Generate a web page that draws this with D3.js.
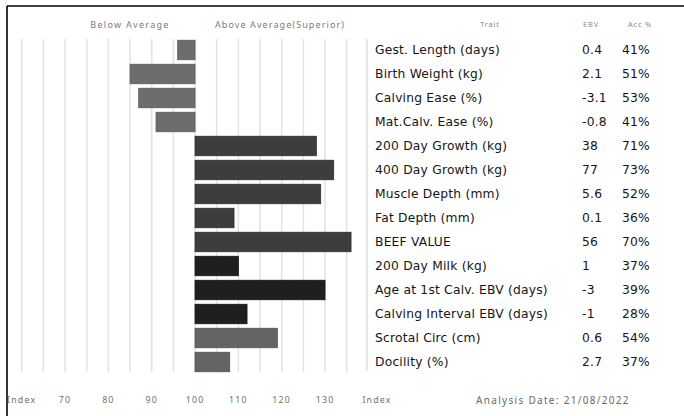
<!DOCTYPE html>
<html>
<head>
<meta charset="utf-8">
<script src="https://cdn.jsdelivr.net/npm/d3@7"></script>
<style>
  html, body { margin: 0; padding: 0; background: #fff; }
  svg { display: block; }
</style>
</head>
<body>
<svg id="chart" width="684" height="416"></svg>
<script>
// ---- data ----
const traits = ["Gest. Length (days)", "Birth Weight (kg)", "Calving Ease (%)", "Mat.Calv. Ease (%)",
  "200 Day Growth (kg)", "400 Day Growth (kg)", "Muscle Depth (mm)", "Fat Depth (mm)", "BEEF VALUE",
  "200 Day Milk (kg)", "Age at 1st Calv. EBV (days)", "Calving Interval EBV (days)", "Scrotal Circ (cm)", "Docility (%)"];
const ebv = ["0.4", "2.1", "-3.1", "-0.8", "38", "77", "5.6", "0.1", "56", "1", "-3", "-1", "0.6", "2.7"];
const acc = ["41%", "51%", "53%", "41%", "71%", "73%", "52%", "36%", "70%", "37%", "39%", "28%", "54%", "37%"];
const indexValues = [96, 85, 87, 91, 128, 132, 129, 109, 136, 110, 130, 112, 119, 108];
const groups = ["Calving", "Calving", "Calving", "Calving", "Growth", "Growth", "Growth", "Growth", "Growth",
  "Fertility", "Fertility", "Fertility", "Other", "Other"];
const gridValues = [60, 65, 70, 75, 80, 85, 90, 95, 100, 105, 110, 115, 120, 125, 130, 135];
const tickValues = [60, 70, 80, 90, 100, 110, 120, 130, 142];
const tickLabels = ["Index", "70", "80", "90", "100", "110", "120", "130", "Index"];
const headers = { below: "Below Average", above: "Above Average(Superior)", trait: "Trait", ebv: "EBV", acc: "Acc %" };
const analysisDate = "Analysis Date: 21/08/2022";

// ---- drawing ----
const svg = d3.select("#chart");
const font = "'Noto Sans', sans-serif";
const rowFont = "'DejaVu Sans', sans-serif";

const x = d3.scaleLinear().domain([60, 135]).range([21.7, 346.7]);
const y = d3.scaleBand().domain(traits).range([38, 374]).paddingInner(0.1875).paddingOuter(0.09375);
const color = d3.scaleOrdinal()
  .domain(["Calving", "Growth", "Fertility", "Other"])
  .range(["#6d6d6d", "#3d3d3d", "#1f1f1f", "#646464"]);
const strokeColor = d3.scaleOrdinal()
  .domain(["Calving", "Growth", "Fertility", "Other"])
  .range(["#5a5a5a", "#2e2e2e", "#141414", "#525252"]);

// frame
svg.append("line").attr("x1", 7).attr("x2", 684).attr("y1", 6).attr("y2", 6)
  .attr("stroke", "#000").attr("stroke-width", 1.6);
svg.append("line").attr("x1", 7).attr("x2", 7).attr("y1", 6).attr("y2", 416)
  .attr("stroke", "#000").attr("stroke-width", 1.6);

// gridlines
svg.append("g").selectAll("line").data(gridValues).join("line")
  .attr("x1", d => x(d)).attr("x2", d => x(d))
  .attr("y1", 39).attr("y2", 372)
  .attr("stroke", "#e4e4e4").attr("stroke-width", 1.6);

// bars
svg.append("g").selectAll("rect").data(traits).join("rect")
  .attr("x", (d, i) => Math.min(x(100), x(indexValues[i])))
  .attr("y", d => y(d))
  .attr("width", (d, i) => Math.abs(x(indexValues[i]) - x(100)))
  .attr("height", y.bandwidth())
  .attr("fill", (d, i) => color(groups[i]))
  .attr("stroke", (d, i) => strokeColor(groups[i]))
  .attr("stroke-width", 0.8);

// header texts
function header(tx, ty, size, spacing, fill, txt) {
  svg.append("text").attr("x", tx).attr("y", ty).attr("text-anchor", "middle")
    .attr("font-family", font).attr("font-size", size).attr("letter-spacing", spacing)
    .attr("fill", fill).text(txt);
}
header(130, 28, 9, 1.3, "#7a7a7a", headers.below);
header(280, 28, 9, 1.1, "#7a7a7a", headers.above);
header(490, 27, 7.5, 0.8, "#8a8a8a", headers.trait);
header(591, 27, 7.5, 0.8, "#8a8a8a", headers.ebv);
header(640, 27, 7.5, 0.8, "#8a8a8a", headers.acc);

// table divider
svg.append("line").attr("x1", 367).attr("x2", 367).attr("y1", 39).attr("y2", 371)
  .attr("stroke", "#dcdcdc").attr("stroke-width", 1.4);

// table rows
const rows = svg.append("g").selectAll("g").data(traits).join("g")
  .attr("transform", d => `translate(0,${y(d) + y.bandwidth() / 2})`);
rows.append("text").attr("x", 375).attr("dy", "0.35em")
  .attr("font-family", rowFont).attr("font-size", 12.3).attr("letter-spacing", 0.2)
  .attr("fill", "#151515").text(d => d);
rows.append("text").attr("x", 582).attr("dy", "0.35em")
  .attr("font-family", rowFont).attr("font-size", 12.3).attr("letter-spacing", 0.2)
  .attr("fill", "#151515").text((d, i) => ebv[i]);
rows.append("text").attr("x", 622).attr("dy", "0.35em")
  .attr("font-family", rowFont).attr("font-size", 12.3).attr("letter-spacing", 0.2)
  .attr("fill", "#151515").text((d, i) => acc[i]);

// bottom axis labels
svg.append("g").selectAll("text").data(tickValues).join("text")
  .attr("x", d => x(d)).attr("y", 403).attr("text-anchor", "middle")
  .attr("font-family", font).attr("font-size", 8.8).attr("letter-spacing", 1.2).attr("fill", "#6f6f6f")
  .text((d, i) => tickLabels[i]);

svg.append("text").attr("x", 553).attr("y", 403.5).attr("text-anchor", "middle")
  .attr("font-family", font).attr("font-size", 10).attr("letter-spacing", 1.3).attr("fill", "#6a6a6a").text(analysisDate);
</script>
</body>
</html>
